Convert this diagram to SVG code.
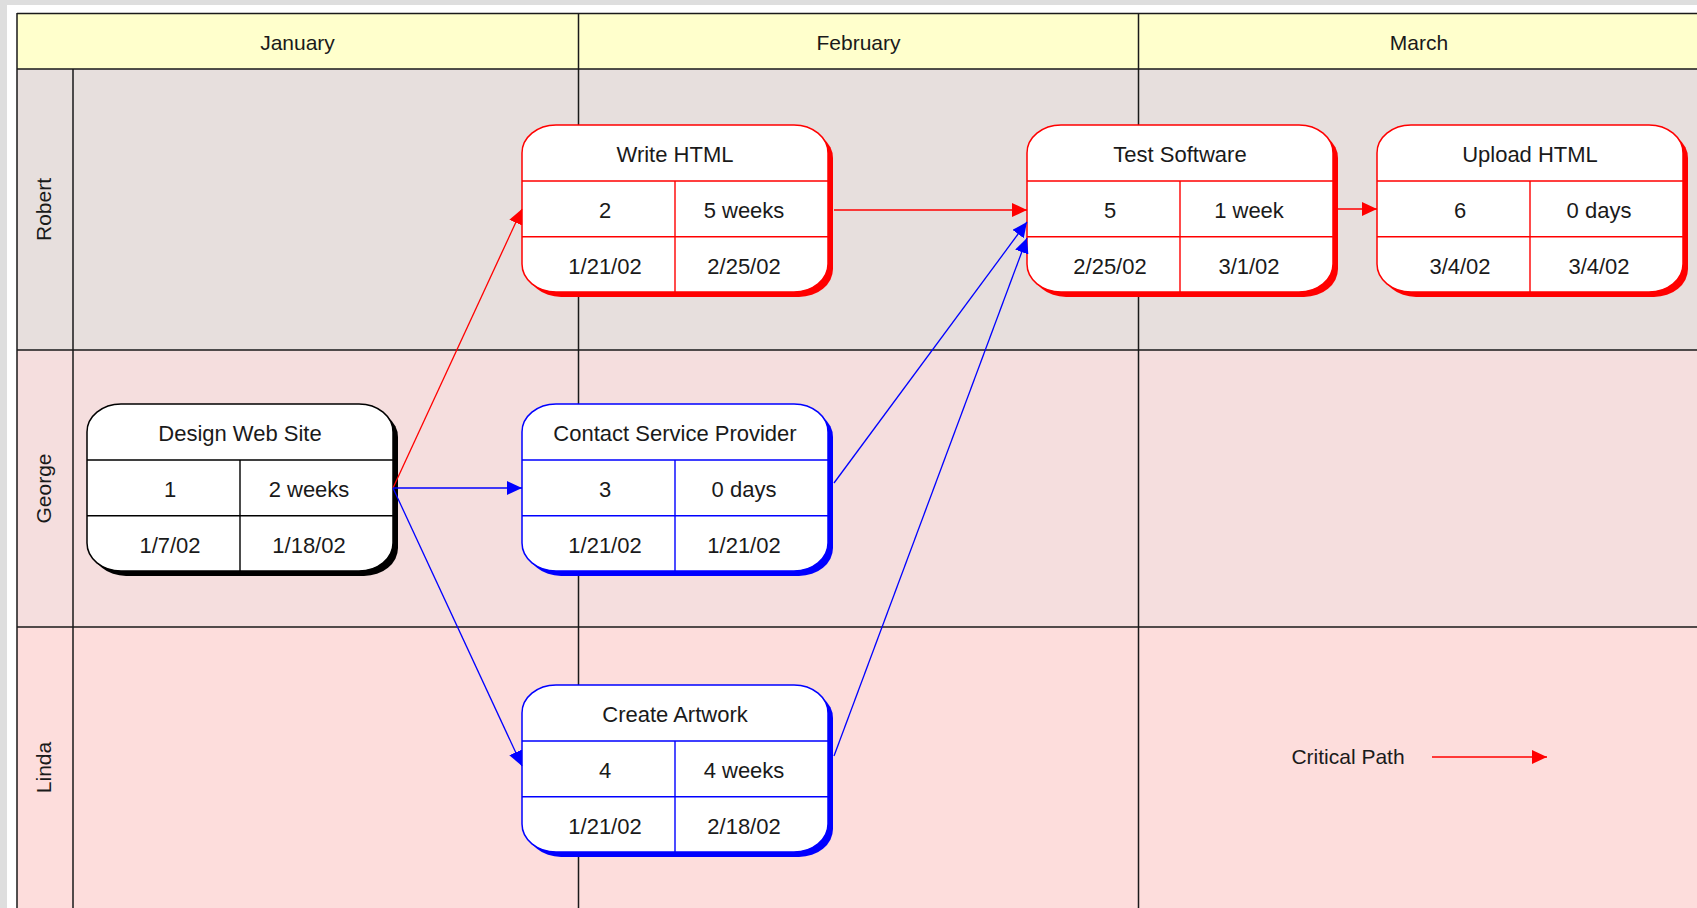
<svg xmlns="http://www.w3.org/2000/svg" width="1697" height="908" viewBox="0 0 1697 908">
<style>
text{font-family:"Liberation Sans",Arial,sans-serif;fill:#1a1a1a;text-anchor:middle}
.hdr{font-size:21px}
.lane{font-size:21px}
.node text{font-size:22px}
.gl{stroke:#1a1a1a;stroke-width:1.5;fill:none}
.box{fill:#fff;stroke-width:1.5}
.grid{fill:none;stroke-width:1.4}
.red .shadow{fill:#f00}.red .box,.red .grid{stroke:#f00}
.blue .shadow{fill:#00f}.blue .box,.blue .grid{stroke:#00f}
.black .shadow{fill:#000}.black .box,.black .grid{stroke:#000}
.cr{stroke:#f00;stroke-width:1.3;fill:none;marker-end:url(#ar)}
.cb{stroke:#00f;stroke-width:1.3;fill:none;marker-end:url(#ab)}
</style>
<defs>
<marker id="ar" markerUnits="userSpaceOnUse" markerWidth="16" markerHeight="14" refX="15" refY="7" orient="auto"><path d="M0,0L15,7L0,14z" fill="#f00"/></marker>
<marker id="ab" markerUnits="userSpaceOnUse" markerWidth="16" markerHeight="14" refX="15" refY="7" orient="auto"><path d="M0,0L15,7L0,14z" fill="#00f"/></marker>
</defs>
<g id="background">
<rect width="1697" height="908" fill="#dedede"/>
<rect x="7" y="5" width="1690" height="903" fill="#fff"/>
<rect x="17" y="13" width="1680" height="56" fill="#ffffcc"/>
<rect x="17" y="69" width="1680" height="281" fill="#e7dfdd"/>
<rect x="17" y="350" width="1680" height="277" fill="#f5dede"/>
<rect x="17" y="627" width="1680" height="281" fill="#fddddc"/>
<path class="gl" d="M17,13.5H1697M17,69H1697M17,350H1697M17,627H1697M17,13V908M73,69V908M578.5,13V908M1138.5,13V908"/>
</g>
<g id="headers">
<text class="hdr" x="297.5" y="50">January</text>
<text class="hdr" x="858.5" y="50">February</text>
<text class="hdr" x="1419" y="50">March</text>
</g>
<g id="lanes">
<text class="lane" transform="translate(51,209.5) rotate(-90)">Robert</text>
<text class="lane" transform="translate(51,488.5) rotate(-90)">George</text>
<text class="lane" transform="translate(51,767.5) rotate(-90)">Linda</text>
</g>
<g id="n-design" class="node black" transform="translate(87,404)">
<rect class="shadow" x="5" y="5" width="306" height="167" rx="34" ry="28"/>
<rect class="box" width="306" height="167" rx="34" ry="28"/>
<path class="grid" d="M0,56H306M0,111.7H306M153,56V167"/>
<text x="153" y="37">Design Web Site</text>
<text x="83" y="93">1</text><text x="222" y="93">2 weeks</text>
<text x="83" y="149">1/7/02</text><text x="222" y="149">1/18/02</text>
</g>
<g id="n-write" class="node red" transform="translate(522,125)">
<rect class="shadow" x="5" y="5" width="306" height="167" rx="34" ry="28"/>
<rect class="box" width="306" height="167" rx="34" ry="28"/>
<path class="grid" d="M0,56H306M0,111.7H306M153,56V167"/>
<text x="153" y="37">Write HTML</text>
<text x="83" y="93">2</text><text x="222" y="93">5 weeks</text>
<text x="83" y="149">1/21/02</text><text x="222" y="149">2/25/02</text>
</g>
<g id="n-contact" class="node blue" transform="translate(522,404)">
<rect class="shadow" x="5" y="5" width="306" height="167" rx="34" ry="28"/>
<rect class="box" width="306" height="167" rx="34" ry="28"/>
<path class="grid" d="M0,56H306M0,111.7H306M153,56V167"/>
<text x="153" y="37">Contact Service Provider</text>
<text x="83" y="93">3</text><text x="222" y="93">0 days</text>
<text x="83" y="149">1/21/02</text><text x="222" y="149">1/21/02</text>
</g>
<g id="n-artwork" class="node blue" transform="translate(522,685)">
<rect class="shadow" x="5" y="5" width="306" height="167" rx="34" ry="28"/>
<rect class="box" width="306" height="167" rx="34" ry="28"/>
<path class="grid" d="M0,56H306M0,111.7H306M153,56V167"/>
<text x="153" y="37">Create Artwork</text>
<text x="83" y="93">4</text><text x="222" y="93">4 weeks</text>
<text x="83" y="149">1/21/02</text><text x="222" y="149">2/18/02</text>
</g>
<g id="n-test" class="node red" transform="translate(1027,125)">
<rect class="shadow" x="5" y="5" width="306" height="167" rx="34" ry="28"/>
<rect class="box" width="306" height="167" rx="34" ry="28"/>
<path class="grid" d="M0,56H306M0,111.7H306M153,56V167"/>
<text x="153" y="37">Test Software</text>
<text x="83" y="93">5</text><text x="222" y="93">1 week</text>
<text x="83" y="149">2/25/02</text><text x="222" y="149">3/1/02</text>
</g>
<g id="n-upload" class="node red" transform="translate(1377,125)">
<rect class="shadow" x="5" y="5" width="306" height="167" rx="34" ry="28"/>
<rect class="box" width="306" height="167" rx="34" ry="28"/>
<path class="grid" d="M0,56H306M0,111.7H306M153,56V167"/>
<text x="153" y="37">Upload HTML</text>
<text x="83" y="93">6</text><text x="222" y="93">0 days</text>
<text x="83" y="149">3/4/02</text><text x="222" y="149">3/4/02</text>
</g>
<g id="connectors">
<path class="cr" d="M393,488L522,209"/>
<path class="cb" d="M393,488L522,488"/>
<path class="cb" d="M393,488L522,766"/>
<path class="cr" d="M834,210L1027,210"/>
<path class="cb" d="M834,483L1027,222"/>
<path class="cb" d="M834,756L1027,238"/>
<path class="cr" d="M1338,209L1377,209"/>
</g>
<g id="legend">
<text class="hdr" x="1348" y="764">Critical Path</text>
<path class="cr" d="M1432,757L1547,757"/>
</g>
</svg>
